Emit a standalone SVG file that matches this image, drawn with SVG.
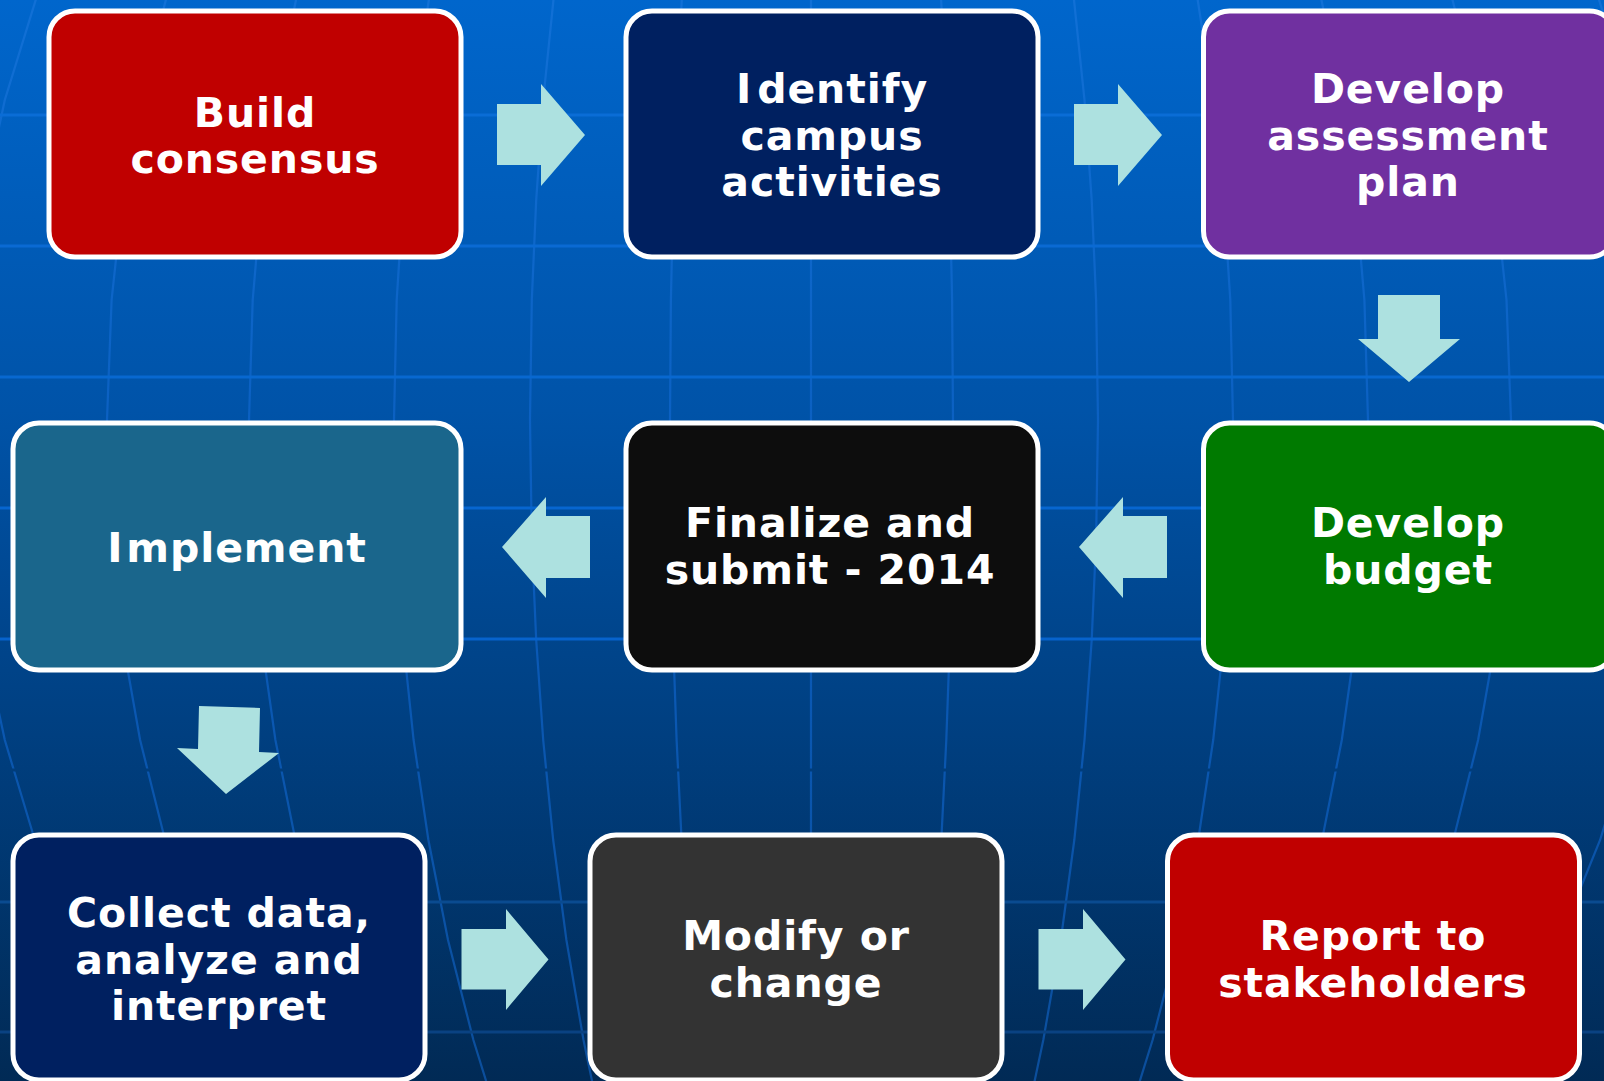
<svg xmlns="http://www.w3.org/2000/svg" width="1604" height="1081" viewBox="0 0 1604 1081">
<defs>
<linearGradient id="bg" gradientUnits="userSpaceOnUse" x1="0" y1="0" x2="0" y2="1081">
<stop offset="0" stop-color="#0066CC"/>
<stop offset="0.38" stop-color="#0053A8"/>
<stop offset="0.68" stop-color="#003F80"/>
<stop offset="1" stop-color="#012A55"/>
</linearGradient>
<linearGradient id="mer" gradientUnits="userSpaceOnUse" x1="0" y1="0" x2="0" y2="1081">
<stop offset="0" stop-color="#1170D6"/>
<stop offset="0.5" stop-color="#0A5CBC"/>
<stop offset="1" stop-color="#0B4E9C"/>
</linearGradient>
<style>
.node rect{stroke:#FFFFFF;stroke-width:5}
.node text{font-family:"DejaVu Sans","Liberation Sans",sans-serif;font-weight:bold;font-size:41px;fill:#FFFFFF;text-anchor:middle;letter-spacing:0.9px}
.arrow{fill:#ADE1E0}
.mer{fill:none;stroke:url(#mer);stroke-width:2.2}
.lat{stroke-width:3.2}
</style>
</defs>

<g id="background">
<rect x="0" y="0" width="1604" height="1081" fill="url(#bg)"/>
<g id="meridians">
<polyline class="mer" points="41.9,-20 4.8,100 -16.5,200 -29.5,300 -35,420 -29.5,540 -16.5,640 4.8,740 34.8,840 74.6,940 126.2,1040 163.7,1100"/>
<polyline class="mer" points="171,-20 140.1,100 122.4,200 111.6,300 107,420 111.6,540 122.4,640 140.1,740 165.1,840 198.2,940 241.1,1040 272.4,1100"/>
<polyline class="mer" points="300.1,-20 275.4,100 261.3,200 252.7,300 249,420 252.7,540 261.3,640 275.4,740 295.4,840 321.8,940 356.1,1040 381,1100"/>
<polyline class="mer" points="431.9,-20 413.6,100 403.1,200 396.7,300 394,420 396.7,540 403.1,640 413.6,740 428.4,840 448,940 473.4,1040 492,1100"/>
<polyline class="mer" points="555.5,-20 543.2,100 536.2,200 531.8,300 530,420 531.8,540 536.2,640 543.2,740 553.2,840 566.4,940 583.5,1040 596,1100"/>
<polyline class="mer" points="682.8,-20 676.6,100 673.1,200 670.9,300 670,420 670.9,540 673.1,640 676.6,740 681.6,840 688.3,940 696.9,1040 703.1,1100"/>
<polyline class="mer" points="811,-20 811,1100"/>
<polyline class="mer" points="940.1,-20 946.3,100 949.9,200 952.1,300 953,420 952.1,540 949.9,640 946.3,740 941.3,840 934.6,940 925.9,1040 919.6,1100"/>
<polyline class="mer" points="1071.9,-20 1084.5,100 1091.7,200 1096.1,300 1098,420 1096.1,540 1091.7,640 1084.5,740 1074.3,840 1060.8,940 1043.3,1040 1030.6,1100"/>
<polyline class="mer" points="1194.6,-20 1213.2,100 1223.8,200 1230.3,300 1233,420 1230.3,540 1223.8,640 1213.2,740 1198.2,840 1178.3,940 1152.6,1040 1133.9,1100"/>
<polyline class="mer" points="1317.4,-20 1341.8,100 1355.8,200 1364.4,300 1368,420 1364.4,540 1355.8,640 1341.8,740 1322,840 1295.8,940 1261.9,1040 1237.2,1100"/>
<polyline class="mer" points="1447.4,-20 1478.1,100 1495.7,200 1506.5,300 1511,420 1506.5,540 1495.7,640 1478.1,740 1453.3,840 1420.3,940 1377.7,1040 1346.6,1100"/>
<polyline class="mer" points="1592.8,-20 1630.6,100 1652.2,200 1665.4,300 1671,420 1665.4,540 1652.2,640 1630.6,740 1600.1,840 1559.5,940 1507.2,1040 1469,1100"/>
</g>
<g id="latitudes">
<line class="lat" x1="0" y1="115" x2="1604" y2="115" stroke="#0A6DD6"/>
<line class="lat" x1="0" y1="246" x2="1604" y2="246" stroke="#0A6AD3"/>
<line class="lat" x1="0" y1="377" x2="1604" y2="377" stroke="#0868D0"/>
<line class="lat" x1="0" y1="508" x2="1604" y2="508" stroke="#0766D0"/>
<line class="lat" x1="0" y1="639" x2="1604" y2="639" stroke="#0763CC"/>
<line class="lat" x1="0" y1="770" x2="1604" y2="770" stroke="url(#bg)"/>
<line class="lat" x1="0" y1="902" x2="1604" y2="902" stroke="#0A4B90"/>
<line class="lat" x1="0" y1="1032" x2="1604" y2="1032" stroke="#0A4282"/>
</g>
</g>

<g id="connectors">
<polygon id="a1" class="arrow" points="497,104 541,104 541,84 585,135 541,186 541,165 497,165"/>
<polygon id="a2" class="arrow" points="1074,104 1118,104 1118,84 1162,135 1118,186 1118,165 1074,165"/>
<polygon id="a3" class="arrow" points="1378,295 1440,295 1440,339 1460,339 1409,382 1358,339 1378,339"/>
<polygon id="a4" class="arrow" points="1167,516 1123,516 1123,497 1079,547 1123,598 1123,578 1167,578"/>
<polygon id="a5" class="arrow" points="590,516 546,516 546,497 502,547 546,598 546,578 590,578"/>
<polygon id="a6" class="arrow" points="199,706 260,708 259,752 279,753 226,794 177,748 198,749"/>
<polygon id="a7" class="arrow" points="461.5,929 506,929 506,909 548.5,959.5 506,1010 506,989.5 461.5,989.5"/>
<polygon id="a8" class="arrow" points="1038.5,929 1083,929 1083,909 1125.5,959.5 1083,1010 1083,989.5 1038.5,989.5"/>
</g>

<g id="node-build" class="node">
<rect x="49" y="11" width="412" height="246" rx="26" fill="#C00000"/>
<text x="255" y="126.5">Build</text>
<text x="255" y="173">consensus</text>
</g>
<g id="node-identify" class="node">
<rect x="626" y="11" width="412" height="246" rx="26" fill="#002060"/>
<text x="832" y="103"><tspan>I</tspan><tspan dx="5">dentify</tspan></text>
<text x="832" y="149.5">campus</text>
<text x="832" y="196">activities</text>
</g>
<g id="node-assessment" class="node">
<rect x="1203.5" y="11" width="412" height="246" rx="26" fill="#7030A0"/>
<text x="1408" y="103">Develop</text>
<text x="1408" y="149.5">assessment</text>
<text x="1408" y="196">plan</text>
</g>
<g id="node-implement" class="node">
<rect x="13" y="423" width="448" height="247" rx="26" fill="#1A668C"/>
<text x="237" y="561.5"><tspan>I</tspan><tspan dx="3">mplement</tspan></text>
</g>
<g id="node-finalize" class="node">
<rect x="626" y="423" width="412" height="247" rx="26" fill="#0D0D0D"/>
<text x="830" y="537">Finalize and</text>
<text x="830" y="584">submit - 2014</text>
</g>
<g id="node-budget" class="node">
<rect x="1203.5" y="423" width="412" height="247" rx="26" fill="#007A00"/>
<text x="1408" y="537">Develop</text>
<text x="1408" y="584">budget</text>
</g>
<g id="node-collect" class="node">
<rect x="13" y="835" width="412" height="245" rx="26" fill="#002060"/>
<text x="219" y="927">Collect data,</text>
<text x="219" y="973.5">analyze and</text>
<text x="219" y="1020">interpret</text>
</g>
<g id="node-modify" class="node">
<rect x="590" y="835" width="412" height="245" rx="26" fill="#333333"/>
<text x="796" y="950">Modify or</text>
<text x="796" y="996.5">change</text>
</g>
<g id="node-report" class="node">
<rect x="1167.5" y="835" width="412" height="245" rx="26" fill="#C00000"/>
<text x="1373" y="950">Report to</text>
<text x="1373" y="997">stakeholders</text>
</g>
</svg>
